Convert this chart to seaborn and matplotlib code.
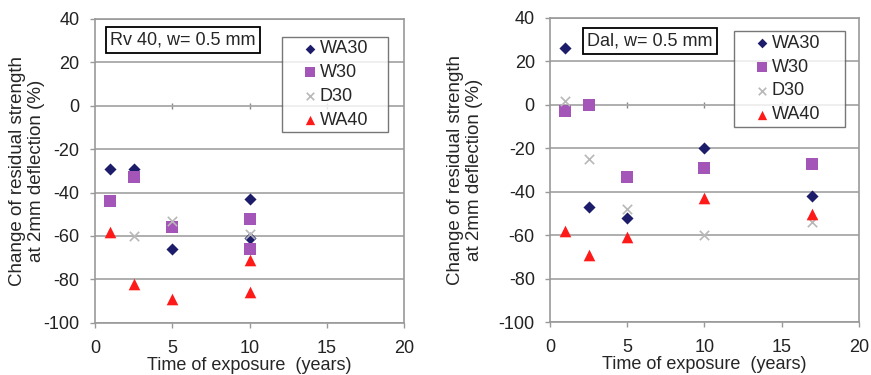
import matplotlib
matplotlib.use("Agg")
import matplotlib.pyplot as plt
import seaborn as sns
import pandas as pd

sns.set_theme(style="white")
plt.rcParams["font.family"] = ["Liberation Sans", "DejaVu Sans"]
plt.rcParams["axes.unicode_minus"] = False

# Rv 40 site
rv_wa30_t = [1, 2.5, 5, 10, 10]
rv_wa30_v = [-29, -29, -66, -43, -61]
rv_w30_t = [1, 2.5, 5, 10, 10]
rv_w30_v = [-44, -33, -56, -52, -66]
rv_d30_t = [2.5, 5, 10]
rv_d30_v = [-60, -53, -59]
rv_wa40_t = [1, 2.5, 5, 10, 10]
rv_wa40_v = [-58, -82, -89, -71, -86]

# Dal site
dal_wa30_t = [1, 2.5, 5, 10, 17]
dal_wa30_v = [26, -47, -52, -20, -42]
dal_w30_t = [1, 2.5, 5, 10, 17]
dal_w30_v = [-3, 0, -33, -29, -27]
dal_d30_t = [1, 2.5, 5, 10, 17]
dal_d30_v = [2, -25, -48, -60, -54]
dal_wa40_t = [1, 2.5, 5, 10, 17]
dal_wa40_v = [-58, -69, -61, -43, -50]

series_names = ["WA30", "W30", "D30", "WA40"]
x_ticks = [0, 5, 10, 15, 20]
y_ticks = [-100, -80, -60, -40, -20, 0, 20, 40]

FS = 13

styles = {
    "WA30": dict(marker="D", color="#1c1c6b", s=38),
    "W30": dict(marker="s", color="#a455b8", s=75),
    "D30": dict(marker="x", color="#b8b8b8", s=45),
    "WA40": dict(marker="^", color="#ff1a1a", s=70),
}

panels = [
    ("Rv 40, w= 0.5 mm",
     [(rv_wa30_t, rv_wa30_v), (rv_w30_t, rv_w30_v),
      (rv_d30_t, rv_d30_v), (rv_wa40_t, rv_wa40_v)],
     [0.109, 0.139, 0.355, 0.811],
     (0.05, 0.93), (0.605, 0.941, 0.343, 0), -0.8),
    ("Dal, w= 0.5 mm",
     [(dal_wa30_t, dal_wa30_v), (dal_w30_t, dal_w30_v),
      (dal_d30_t, dal_d30_v), (dal_wa40_t, dal_wa40_v)],
     [0.6315, 0.141, 0.3545, 0.811],
     (0.12, 0.923), (0.595, 0.957, 0.36, 0), 11.5),
]

fig = plt.figure(figsize=(8.71, 3.75), dpi=100)
fig.patch.set_facecolor("white")

for title, data, rect, tpos, lbox, ypad in panels:
    ax = fig.add_axes(rect)
    frames = []
    for name, (t, v) in zip(series_names, data):
        frames.append(pd.DataFrame({"t": t, "v": v, "series": name}))
    df = pd.concat(frames, ignore_index=True)
    for name in series_names:
        st = styles[name]
        sub = df[df["series"] == name]
        kw = dict(linewidth=0) if st["marker"] != "x" else dict(linewidth=1.2)
        sns.scatterplot(data=sub, x="t", y="v", ax=ax, marker=st["marker"],
                        color=st["color"], s=st["s"], label=name, zorder=3, **kw)

    ax.set_xlim(0, 20)
    ax.set_ylim(-100, 40)
    ax.set_xticks(x_ticks)
    ax.set_yticks(y_ticks)
    ax.tick_params(axis="both", labelsize=FS, labelcolor="#222222",
                   color="#999999", length=3.5, width=1.0, direction="out",
                   left=True, bottom=True)
    ax.tick_params(axis="y", pad=7.5)
    ax.tick_params(axis="x", pad=9)
    ax.yaxis.grid(True, color="#a8a8a8", linewidth=1.3)
    ax.xaxis.grid(False)
    for sp in ax.spines.values():
        sp.set_color("#999999")
        sp.set_linewidth(1.2)

    # horizontal axis crossing at zero, with its tick marks
    sec = ax.secondary_xaxis(100 / 140)
    sec.set_xticks([5, 10, 15])
    sec.tick_params(direction="inout", length=5, color="#888888", labelbottom=False,
                    labeltop=False, width=1.0)
    sec.spines["bottom"].set_visible(False)
    sec.spines["top"].set_visible(False)

    ax.set_xlabel("Time of exposure  (years)", fontsize=FS, labelpad=0)
    ax.set_ylabel("Change of residual strength\nat 2mm deflection (%)",
                  fontsize=13.5, labelpad=ypad, linespacing=1.12)

    ax.text(tpos[0], tpos[1], title, transform=ax.transAxes, fontsize=FS,
            va="center", ha="left",
            bbox=dict(boxstyle="square,pad=0.25", facecolor="white",
                      edgecolor="black", linewidth=1.3))

    leg = ax.legend(loc="upper left", bbox_to_anchor=lbox, mode="expand",
                    fontsize=FS, frameon=True, fancybox=False,
                    handletextpad=-0.85, handlelength=2.75, borderpad=0.2,
                    labelspacing=0.38, borderaxespad=0, markerscale=0.8)
    leg.get_frame().set_edgecolor("#555555")
    leg.get_frame().set_linewidth(1.0)

fig.savefig("out.png", dpi=100, facecolor="white")
